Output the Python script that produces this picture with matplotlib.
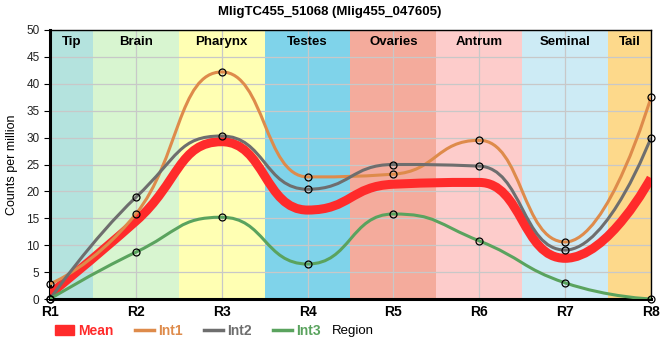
import matplotlib
matplotlib.use("Agg")
import matplotlib.pyplot as plt
from matplotlib.path import Path
from matplotlib.patches import PathPatch, Patch
from matplotlib.lines import Line2D

plt.rcParams["font.family"] = ["Liberation Sans", "DejaVu Sans"]

regions = ["R1", "R2", "R3", "R4", "R5", "R6", "R7", "R8"]
tissues = ["Tip", "Brain", "Pharynx", "Testes", "Ovaries", "Antrum", "Seminal", "Tail"]
tissue_colors = ["#b4e3de", "#d8f5d0", "#ffffb3", "#7fd3ea", "#f4ab9c", "#fdcccb", "#cdebf5", "#fdd98b"]

int1 = [2.8, 15.8, 42.2, 22.7, 23.2, 29.5, 10.6, 37.5]
int2 = [0.0, 18.9, 30.3, 20.4, 25.0, 24.7, 9.1, 30.0]
int3 = [0.0, 8.7, 15.2, 6.5, 15.8, 10.8, 3.0, 0.0]
mean = [(a + b + c) / 3 for a, b, c in zip(int1, int2, int3)]

C_MEAN, C1, C2, C3 = "#ff2b2b", "#de8b4b", "#6e6e6e", "#5aa35e"


def spline_path(xs, ys, smoothing=1.0):
    # highcharts-like spline: bezier controls, flattened at local extremes
    n = len(xs)
    lc = [(x, y) for x, y in zip(xs, ys)]
    rc = [(x, y) for x, y in zip(xs, ys)]
    d = smoothing + 1
    for i in range(1, n - 1):
        x, y = xs[i], ys[i]
        px, py, nx, ny = xs[i - 1], ys[i - 1], xs[i + 1], ys[i + 1]
        lx, ly = (smoothing * x + px) / d, (smoothing * y + py) / d
        rx, ry = (smoothing * x + nx) / d, (smoothing * y + ny) / d
        corr = (ry - ly) * (rx - x) / (rx - lx) + y - ry
        ly += corr; ry += corr
        if ly > py and ly > y:
            ly = max(py, y); ry = 2 * y - ly
        elif ly < py and ly < y:
            ly = min(py, y); ry = 2 * y - ly
        if ry > ny and ry > y:
            ry = max(ny, y); ly = 2 * y - ry
        elif ry < ny and ry < y:
            ry = min(ny, y); ly = 2 * y - ry
        lc[i] = (lx, ly); rc[i] = (rx, ry)
    verts = [(xs[0], ys[0])]
    codes = [Path.MOVETO]
    for i in range(1, n):
        verts += [rc[i - 1], lc[i], (xs[i], ys[i])]
        codes += [Path.CURVE4] * 3
    return Path(verts, codes)


fig = plt.figure(figsize=(6.6, 3.6), dpi=100)
ax = fig.add_axes([50 / 660, 1 - 299 / 360, 601 / 660, 269 / 360])
xs = list(range(len(regions)))

for i, (name, col) in enumerate(zip(tissues, tissue_colors)):
    ax.axvspan(max(i - 0.5, 0), min(i + 0.5, len(regions) - 1), color=col, lw=0, zorder=0)
    ax.text(i if 0 < i < len(regions) - 1 else (0.25 if i == 0 else len(regions) - 1.25),
            47.7, name, ha="center", va="center", fontsize=9.5, fontweight="bold", zorder=5)

for series, col, lw in [(mean, C_MEAN, 6.5), (int1, C1, 2.2), (int2, C2, 2.2), (int3, C3, 2.2)]:
    ax.add_patch(PathPatch(spline_path(xs, series), fill=False, edgecolor=col, lw=lw,
                           capstyle="butt", joinstyle="round", zorder=3))
for series in (int1, int2, int3):
    ax.plot(xs, series, ls="none", marker="o", ms=5, mfc="none", mec="black", mew=0.9,
            zorder=4, clip_on=False)

ax.set_xlim(0, len(regions) - 1)
ax.set_ylim(0, 50)
ax.set_yticks(range(0, 51, 5))
ax.set_xticks(xs)
ax.set_xticklabels(regions, fontweight="bold", fontsize=10)
ax.tick_params(axis="y", labelsize=8.5, length=4, labelcolor="#222")
ax.tick_params(axis="x", length=0, pad=4)
ax.grid(True, color="#c8c8c8", lw=0.9, zorder=1)
for g in ax.get_xgridlines() + ax.get_ygridlines():
    g.set_zorder(1)
ax.spines["left"].set_linewidth(2.2)
ax.spines["bottom"].set_linewidth(2.2)
ax.spines["top"].set_linewidth(1)
ax.spines["right"].set_linewidth(1)
ax.set_ylabel("Counts per million", fontsize=9, labelpad=6)

fig.text(0.5, 0.968, "MligTC455_51068 (Mlig455_047605)", ha="center", va="center",
         fontsize=9.5, fontweight="bold")
fig.text(332 / 660, 1 - 331 / 360, "Region", ha="left", va="center", fontsize=9.5)

handles = [Patch(color=C_MEAN), Line2D([], [], color=C1, lw=2.5),
           Line2D([], [], color=C2, lw=2.5), Line2D([], [], color=C3, lw=2.5)]
leg = fig.legend(handles, ["Mean", "Int1", "Int2", "Int3"], loc="center left",
                 bbox_to_anchor=(55 / 660, 1 - 331 / 360), ncol=4, frameon=False,
                 handlelength=1.4, handleheight=0.8, handletextpad=0.3, columnspacing=1.5,
                 prop={"size": 10, "weight": "bold"}, borderaxespad=0, borderpad=0)
for t, c in zip(leg.get_texts(), [C_MEAN, C1, C2, C3]):
    t.set_color(c)

fig.savefig("out.png", dpi=100)
